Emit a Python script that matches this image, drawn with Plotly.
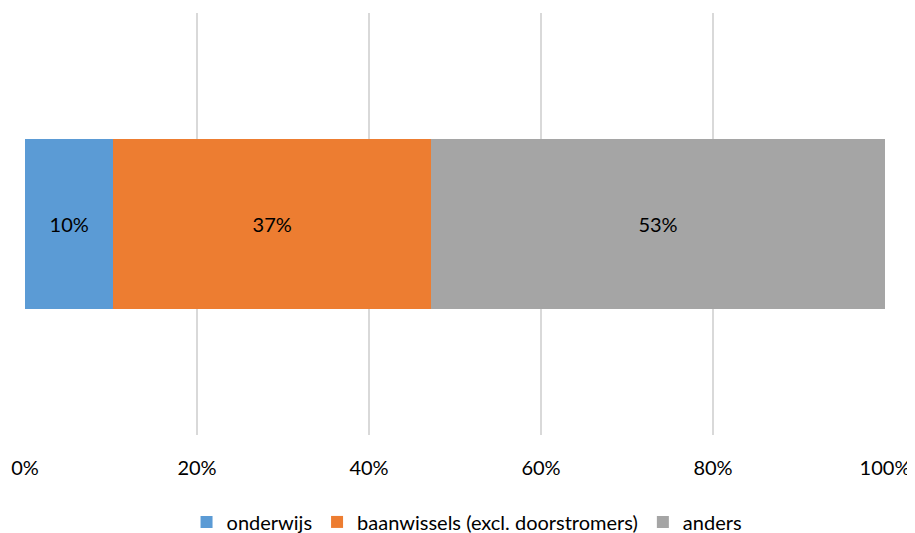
import plotly.graph_objects as go

categories = [""]
series_names = ["onderwijs", "baanwissels (excl. doorstromers)", "anders"]
series_values = [10.27, 36.94, 52.79]
series_labels = ["10%", "37%", "53%"]
colors = ["#5B9BD5", "#ED7D31", "#A5A5A5"]
tick_vals = [0, 20, 40, 60, 80, 100]
tick_text = ["0%", "20%", "40%", "60%", "80%", "100%"]

FONT = "Lato, Calibri, sans-serif"
FS = 20

fig = go.Figure()
for name, val, lab, col in zip(series_names, series_values, series_labels, colors):
    fig.add_trace(go.Bar(
        y=categories, x=[val], name=name, orientation="h",
        marker=dict(color=col, line=dict(width=0)),
        text=[lab], textposition="inside", insidetextanchor="middle",
        textfont=dict(family=FONT, size=FS, color="#000000"),
        hoverinfo="skip",
    ))

# page body has an 8px margin, so the figure is 8px smaller and margins offset
fig.update_layout(
    barmode="stack",
    bargap=0.597,
    width=907, height=525,
    margin=dict(l=17, r=30, t=5, b=98, autoexpand=False),
    paper_bgcolor="white", plot_bgcolor="white",
    font=dict(family=FONT, size=FS, color="#000000"),
    legend=dict(orientation="h", x=0.514, xanchor="center", y=-0.206, yanchor="middle",
                font=dict(family=FONT, size=FS, color="#000000"),
                itemclick=False, traceorder="normal", itemwidth=30),
    showlegend=True,
)
fig.update_xaxes(range=[0, 100], tickvals=tick_vals, ticktext=tick_text,
                 showgrid=True, gridcolor="#D9D9D9", gridwidth=2,
                 zeroline=False, showline=False, ticks="",
                 ticklabelstandoff=19, automargin=False,
                 tickfont=dict(family=FONT, size=FS, color="#000000"))
fig.update_yaxes(showgrid=False, zeroline=False, showline=False, showticklabels=False,
                 automargin=False)

fig.write_html("out.html")
